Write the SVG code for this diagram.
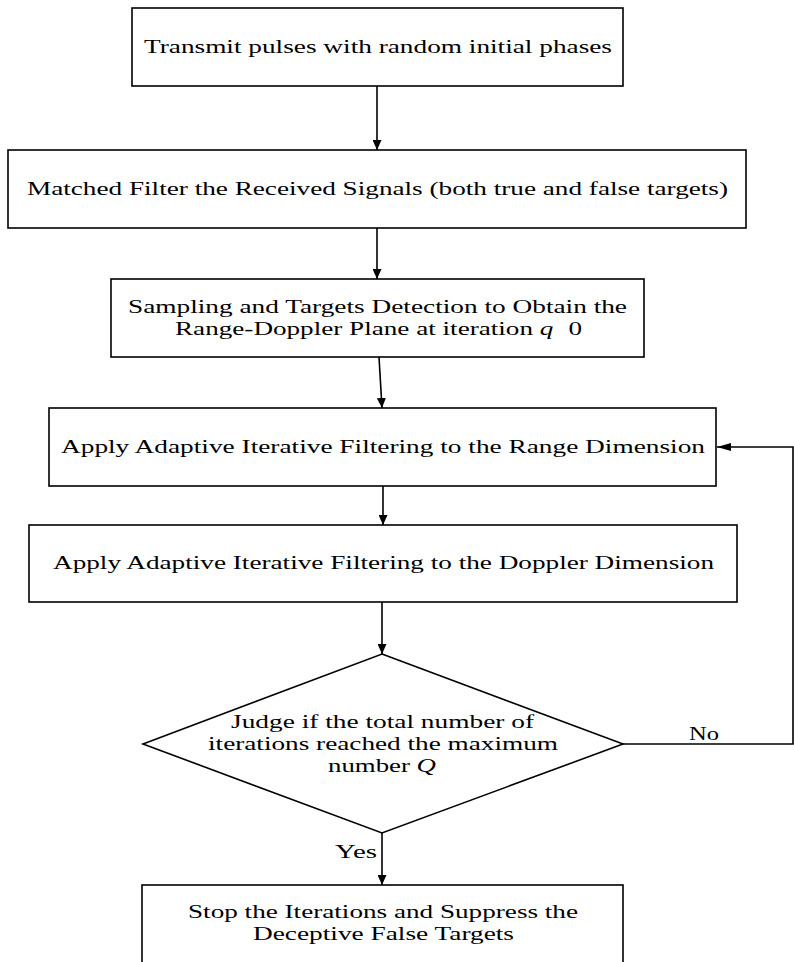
<svg xmlns="http://www.w3.org/2000/svg" width="794" height="962" viewBox="0 0 794 962">
<style>
.box{fill:#fff;stroke:#000;stroke-width:1.6}
.t{font-family:"Liberation Serif","Times New Roman",serif;font-size:18px;fill:#000}
.c{fill:none;stroke:#000;stroke-width:1.6}
</style>
<defs>
<marker id="ah" viewBox="0 0 10 10" refX="10" refY="5" markerWidth="10" markerHeight="9" preserveAspectRatio="none" markerUnits="userSpaceOnUse" orient="auto">
<path d="M0,0 L10,5 L0,10 z" fill="#000"/>
</marker>
<marker id="ahh" viewBox="0 0 10 10" refX="10" refY="5" markerWidth="14" markerHeight="8" preserveAspectRatio="none" markerUnits="userSpaceOnUse" orient="auto">
<path d="M0,0 L10,5 L0,10 z" fill="#000"/>
</marker>
</defs>
<rect width="794" height="962" fill="#fff"/>
<g id="n1"><rect class="box" x="132" y="8" width="491" height="78"/><text class="t" x="144" y="53" textLength="468" lengthAdjust="spacingAndGlyphs">Transmit pulses with random initial phases</text></g>
<g id="n2"><rect class="box" x="8" y="150" width="738" height="78"/><text class="t" x="27" y="195" textLength="701" lengthAdjust="spacingAndGlyphs">Matched Filter the Received Signals (both true and false targets)</text></g>
<g id="n3"><rect class="box" x="111" y="279" width="533" height="78"/><text class="t" x="128" y="313" textLength="499" lengthAdjust="spacingAndGlyphs">Sampling and Targets Detection to Obtain the</text><text class="t" x="175" y="335" textLength="407" lengthAdjust="spacingAndGlyphs">Range-Doppler Plane at iteration <tspan font-style="italic">q</tspan><tspan dx="10">0</tspan></text></g>
<g id="n4"><rect class="box" x="49" y="408" width="667" height="78"/><text class="t" x="61" y="453" textLength="644" lengthAdjust="spacingAndGlyphs">Apply Adaptive Iterative Filtering to the Range Dimension</text></g>
<g id="n5"><rect class="box" x="29" y="525" width="708" height="77"/><text class="t" x="53" y="569" textLength="661" lengthAdjust="spacingAndGlyphs">Apply Adaptive Iterative Filtering to the Doppler Dimension</text></g>
<g id="n6"><polygon class="box" points="382,654 623,744 382,833 143,744"/><text class="t" x="231" y="728" textLength="303" lengthAdjust="spacingAndGlyphs">Judge if the total number of</text><text class="t" x="208" y="750" textLength="350" lengthAdjust="spacingAndGlyphs">iterations reached the maximum</text><text class="t" x="328" y="772" textLength="108" lengthAdjust="spacingAndGlyphs">number <tspan font-style="italic">Q</tspan></text></g>
<g id="n7"><rect class="box" x="142" y="885" width="481" height="90"/><text class="t" x="188" y="918" textLength="390" lengthAdjust="spacingAndGlyphs">Stop the Iterations and Suppress the</text><text class="t" x="253" y="940" textLength="261" lengthAdjust="spacingAndGlyphs">Deceptive False Targets</text></g>
<g id="connectors">
<line class="c" x1="377" y1="86" x2="377" y2="150" marker-end="url(#ah)"/>
<line class="c" x1="377" y1="228" x2="377" y2="279" marker-end="url(#ah)"/>
<line class="c" x1="379" y1="357" x2="382" y2="408" marker-end="url(#ah)"/>
<line class="c" x1="383" y1="486" x2="383" y2="525" marker-end="url(#ah)"/>
<line class="c" x1="382" y1="602" x2="382" y2="654" marker-end="url(#ah)"/>
<line class="c" x1="382" y1="833" x2="382" y2="885" marker-end="url(#ah)"/>
<polyline class="c" points="623,744 793,744 793,447 717,447" marker-end="url(#ahh)"/>
<text class="t" x="689" y="740" textLength="30" lengthAdjust="spacingAndGlyphs">No</text>
<text class="t" x="335" y="858" textLength="42" lengthAdjust="spacingAndGlyphs">Yes</text>
</g>
</svg>
